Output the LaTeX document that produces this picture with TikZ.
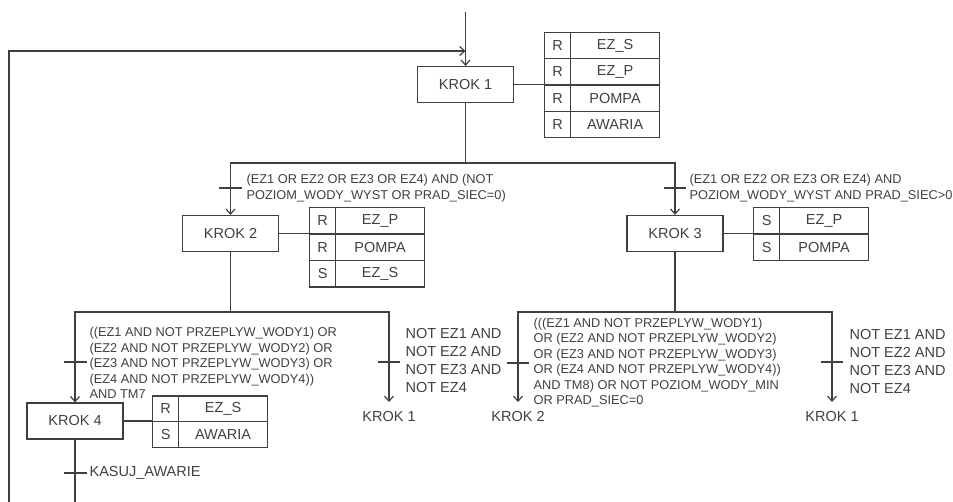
\documentclass[tikz,border=0pt]{standalone}
\usepackage{fontspec}
\setmainfont{Liberation Sans}
\usetikzlibrary{arrows.meta}
\begin{document}
\begin{tikzpicture}[x=1pt,y=-1pt,color=black!75,line width=1.2pt,
  bigfont/.style={font=\fontsize{14.5}{18}\selectfont},
  smallfont/.style={font=\fontsize{12.8}{15.5}\selectfont},
  stepbox/.style={draw,rectangle,minimum width=96pt,minimum height=36pt,inner sep=0pt,bigfont},
  cellq/.style={draw,rectangle,anchor=north west,minimum width=26pt,inner sep=0pt,bigfont},
  cella/.style={draw,rectangle,anchor=north west,minimum width=89pt,inner sep=0pt,bigfont},
  cond/.style={anchor=west,align=left,inner sep=0pt,smallfont},
  condbig/.style={anchor=west,align=left,inner sep=0pt,bigfont},
  jump/.style={anchor=north,inner sep=0pt,bigfont},
  flow/.style={-{Straight Barb[length=5pt,width=9pt]}},
  trbar/.style={line width=1.2pt}]
\useasboundingbox (0,0) rectangle (953,502);

% steps
\node[stepbox] (k1) at (465.5,84.5) {KROK 1};
\node[stepbox] (k2) at (230.5,233.5) {KROK 2};
\node[stepbox] (k3) at (675,233.5) {KROK 3};
\node[stepbox] (k4) at (75,421) {KROK 4};

% table 1
\begin{scope}[every node/.append style={minimum height=26.25pt}]
\node[cellq] (t1q1) at (544,32) {R};
\node[cella] (t1a1) at (570,32) {EZ\_S};
\node[cellq] (t1q2) at (544,58.25) {R};
\node[cella] (t1a2) at (570,58.25) {EZ\_P};
\node[cellq] (t1q3) at (544,84.5) {R};
\node[cella] (t1a3) at (570,84.5) {POMPA};
\node[cellq] (t1q4) at (544,110.75) {R};
\node[cella] (t1a4) at (570,110.75) {AWARIA};
\end{scope}
% table 2
\begin{scope}[every node/.append style={minimum height=26.5pt}]
\node[cellq] (t2q1) at (309,207) {R};
\node[cella] (t2a1) at (335,207) {EZ\_P};
\node[cellq] (t2q2) at (309,233.5) {R};
\node[cella] (t2a2) at (335,233.5) {POMPA};
\node[cellq] (t2q3) at (309,260) {S};
\node[cella] (t2a3) at (335,260) {EZ\_S};
% table 3
\node[cellq] (t3q1) at (753,207) {S};
\node[cella] (t3a1) at (779,207) {EZ\_P};
\node[cellq] (t3q2) at (753,233.5) {S};
\node[cella] (t3a2) at (779,233.5) {POMPA};
\end{scope}
% table 4
\begin{scope}[every node/.append style={minimum height=25.5pt}]
\node[cellq] (t4q1) at (152,395.5) {R};
\node[cella] (t4a1) at (178,395.5) {EZ\_S};
\node[cellq] (t4q2) at (152,421) {S};
\node[cella] (t4a2) at (178,421) {AWARIA};
\end{scope}

% action connectors
\draw (k1.east) -- (k1.east -| t1q1.west);
\draw (k2.east) -- (k2.east -| t2q1.west);
\draw (k3.east) -- (k3.east -| t3q1.west);
\draw (k4.east) -- (k4.east -| t4q1.west);

% entry and loop
\coordinate (top) at (465.5,12);
\coordinate (loopin) at (465.5,51);
\coordinate (loopstart) at (9,502);
\draw[flow] (top) -- (k1.north);
\draw[flow] (loopstart) |- (loopin);

% branch after KROK 1
\coordinate (b1) at (465.5,163);
\draw (k1.south) -- (b1);
\draw[flow] (b1) -| (k2.north);
\draw[flow] (b1) -| (k3.north);
\draw[trbar] (219,188) -- (242,188);
\draw[trbar] (664,188) -- (686,188);
\node[cond] (c1) at (246,188) {(EZ1 OR EZ2 OR EZ3 OR EZ4) AND (NOT\\POZIOM\_WODY\_WYST OR PRAD\_SIEC=0)};
\node[cond] (c2) at (689,188) {(EZ1 OR EZ2 OR EZ3 OR EZ4) AND\\POZIOM\_WODY\_WYST AND PRAD\_SIEC>0};

% branch after KROK 2
\coordinate (b2) at (230.5,312);
\node[jump] (j1) at (389,411) {KROK 1};
\draw (k2.south) -- (b2);
\draw[flow] (b2) -| (k4.north);
\draw[flow] (b2) -| ([yshift=9pt]j1.north);
\draw[trbar] (64,362) -- (87,362);
\draw[trbar] (378,362) -- (400,362);
\node[cond] (c3) at (89,363) {((EZ1 AND NOT PRZEPLYW\_WODY1) OR\\(EZ2 AND NOT PRZEPLYW\_WODY2) OR\\(EZ3 AND NOT PRZEPLYW\_WODY3) OR\\(EZ4 AND NOT PRZEPLYW\_WODY4))\\AND TM7};
\node[condbig] (c4) at (405,361) {NOT EZ1 AND\\NOT EZ2 AND\\NOT EZ3 AND\\NOT EZ4};

% after KROK 4
\coordinate (e4) at (75,502);
\draw (k4.south) -- (e4);
\draw[trbar] (64,473) -- (87,473);
\node[condbig] (c5) at (89,473) {KASUJ\_AWARIE};

% branch after KROK 3
\coordinate (b3) at (675,312);
\node[jump] (j2) at (518,411) {KROK 2};
\node[jump] (j3) at (832,411) {KROK 1};
\draw (k3.south) -- (b3);
\draw[flow] (b3) -| ([yshift=9pt]j2.north);
\draw[flow] (b3) -| ([yshift=9pt]j3.north);
\draw[trbar] (507,363) -- (529,363);
\draw[trbar] (821,362) -- (843,362);
\node[cond] (c6) at (533,362.5) {(((EZ1 AND NOT PRZEPLYW\_WODY1)\\OR (EZ2 AND NOT PRZEPLYW\_WODY2)\\OR (EZ3 AND NOT PRZEPLYW\_WODY3)\\OR (EZ4 AND NOT PRZEPLYW\_WODY4))\\AND TM8) OR NOT POZIOM\_WODY\_MIN\\OR PRAD\_SIEC=0};
\node[condbig] (c7) at (849,362) {NOT EZ1 AND\\NOT EZ2 AND\\NOT EZ3 AND\\NOT EZ4};
\end{tikzpicture}
\end{document}
